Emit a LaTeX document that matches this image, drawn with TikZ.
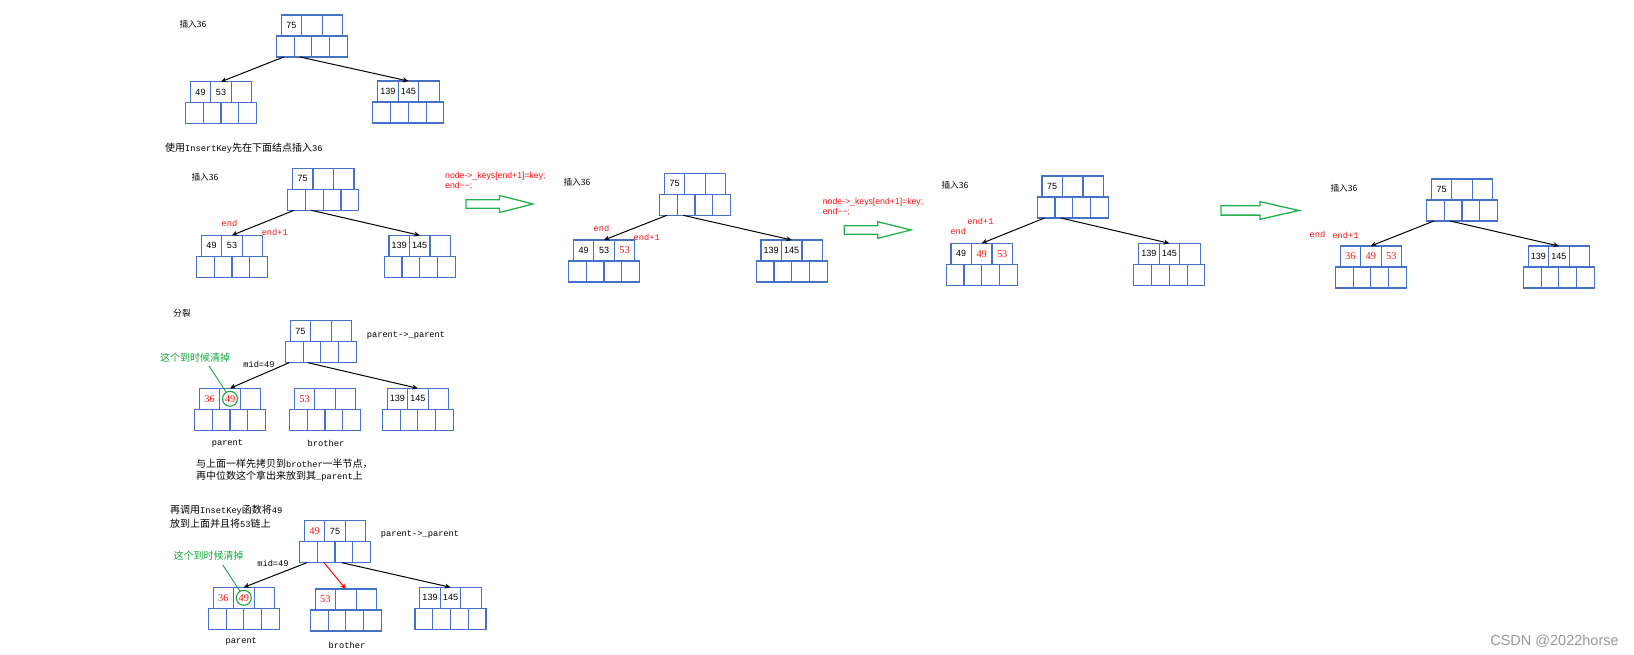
\documentclass[tikz,border=0pt]{standalone}
\usepackage{fontspec}
\setmainfont{Liberation Sans}
\newfontfamily\cjk{Noto Sans CJK SC}
\newfontfamily\mono{Liberation Mono}
\newfontfamily\snum{Liberation Serif}
\usetikzlibrary{arrows.meta}
\definecolor{cellblue}{HTML}{4472C4}
\definecolor{agreen}{HTML}{22B14C}
\definecolor{tgreen}{HTML}{14A83C}
\definecolor{wmgray}{HTML}{999999}
\definecolor{kred}{HTML}{FF1010}
\newcommand\redkey[1]{{\color{kred}\snum\fontsize{10.4}{11}\selectfont #1}}
\newcommand\latn[1]{{\mono\fontsize{8.7}{10}\selectfont #1}}
\newcommand\bnode[6]{%
 \node[ucell] (#1u1) at (#2-20.5,#3+10.5) {#4};
 \node[ucell] (#1u2) at (#2,#3+10.5) {#5};
 \node[ucell] (#1u3) at (#2+20.5,#3+10.5) {#6};
 \node[lcell] (#1l1) at (#2-26.625,#3+31.5) {};
 \node[lcell] (#1l2) at (#2-8.875,#3+31.5) {};
 \node[lcell] (#1l3) at (#2+8.875,#3+31.5) {};
 \node[lcell] (#1l4) at (#2+26.625,#3+31.5) {};
}
\newcommand\garrow[6]{\draw[gbig] (#1,#4-#5) -- (#2,#4-#5) -- (#2,#4-#6) -- (#3,#4) -- (#2,#4+#6) -- (#2,#4+#5) -- (#1,#4+#5) -- cycle;}
\tikzset{
 ucell/.style={draw=cellblue, line width=1.1pt, minimum width=20.5pt, minimum height=21pt, inner sep=0pt, outer sep=0pt, font=\fontsize{9}{10}\selectfont},
 lcell/.style={ucell, minimum width=17.75pt},
 tarrow/.style={line width=1pt, -{Stealth[length=5.5pt,width=5pt]}},
 rarrow/.style={tarrow, draw=red},
 gbig/.style={draw=agreen, line width=1.3pt, line join=miter},
 endlbl/.style={text=kred, font=\mono\fontsize{8.7}{10}\selectfont, inner sep=0pt},
 codetxt/.style={text=kred, font=\fontsize{8.7}{10}\selectfont, inner sep=0pt, anchor=west},
 instxt/.style={font=\cjk\fontsize{8.6}{10}\selectfont, inner sep=0pt},
 captxt/.style={font=\cjk\fontsize{10}{12}\selectfont, inner sep=0pt, anchor=west},
 lbltxt/.style={font=\mono\fontsize{8.7}{10}\selectfont, inner sep=0pt},
 gtxt/.style={text=tgreen, font=\cjk\fontsize{10}{12}\selectfont, inner sep=0pt},
 gcirc/.style={draw=tgreen, circle, line width=1.1pt, minimum size=15pt, inner sep=0pt},
 gline/.style={draw=tgreen, line width=0.9pt},
}
\begin{document}
\begin{tikzpicture}[x=1pt,y=-1pt]
\fill[white] (0,0) rectangle (1634,655);
\useasboundingbox (0,0) rectangle (1634,655);

% ---------- Diagram 1 ----------
\node[instxt] (t1) at (193,24) {插入36};
\bnode{aT}{311.8}{15}{75}{}{}
\bnode{aL}{221}{81.7}{49}{53}{}
\bnode{aR}{408.3}{81}{139}{145}{}
\draw[tarrow] ([xshift=-1.5pt]aTl1.south) -- (aLu2.north);
\draw[tarrow] ([xshift=-3pt]aTl2.south) -- (aRu2.north);
\node[captxt] (c1) at (165,148) {使用\latn{InsertKey}先在下面结点插入\latn{36}};

% ---------- Diagram 2 ----------
\node[instxt] (t2) at (205,177) {插入36};
\bnode{bT}{323.2}{168.3}{75}{}{}
\bnode{bL}{232}{235.3}{49}{53}{}
\bnode{bR}{419.7}{235.3}{139}{145}{}
\draw[tarrow] ([xshift=-2.5pt]bTl1.south) -- (bLu2.north);
\draw[tarrow] ([xshift=-3pt]bTl2.south) -- (bRu2.north);
\node[endlbl] (e2a) at (229.5,223.5) {end};
\node[endlbl] (e2b) at (274.8,232) {end+1};
\node[codetxt] (k1a) at (445,176.7) {node->\_keys[end+1]=key;};
\node[codetxt] (k1b) at (445,185.8) {end−−;};
\garrow{466}{499.5}{533}{204}{4.2}{8.5}

% ---------- Diagram 3 ----------
\node[instxt] (t3) at (577,182) {插入36};
\bnode{cT}{695}{173.3}{75}{}{}
\bnode{cL}{604}{240}{49}{53}{\redkey{53}}
\bnode{cR}{791.7}{240}{139}{145}{}
\draw[tarrow] ([xshift=-1.5pt]cTl1.south) -- (cLu2.north);
\draw[tarrow] ([xshift=-3pt]cTl2.south) -- (cRu2.north);
\node[endlbl] (e3a) at (601.5,228.5) {end};
\node[endlbl] (e3b) at (646.7,237) {end+1};
\node[codetxt] (k2a) at (822.7,202.3) {node->\_keys[end+1]=key;};
\node[codetxt] (k2b) at (822.7,211.5) {end−−;};
\garrow{844.3}{877.7}{911}{230}{4.2}{8.3}

% ---------- Diagram 4 ----------
\node[instxt] (t4) at (955,185) {插入36};
\bnode{dT}{1072.7}{176}{75}{}{}
\bnode{dL}{981.7}{243.3}{49}{\redkey{49}}{\redkey{53}}
\bnode{dR}{1169.3}{243.3}{139}{145}{}
\draw[tarrow] ([xshift=-1.5pt]dTl1.south) -- (dLu2.north);
\draw[tarrow] ([xshift=-3pt]dTl2.south) -- (dRu2.north);
\node[endlbl] (e4b) at (980.5,221.7) {end+1};
\node[endlbl] (e4a) at (958.3,231) {end};
\garrow{1221}{1260}{1299}{210.5}{4.65}{8.8}

% ---------- Diagram 5 ----------
\node[instxt] (t5) at (1344,188) {插入36};
\bnode{eT}{1462}{179}{75}{}{}
\bnode{eL}{1370.8}{246}{\redkey{36}}{\redkey{49}}{\redkey{53}}
\bnode{eR}{1558.8}{246}{139}{145}{}
\draw[tarrow] ([xshift=-1.5pt]eTl1.south) -- (eLu2.north);
\draw[tarrow] ([xshift=-3pt]eTl2.south) -- (eRu2.north);
\node[endlbl] (e5a) at (1317.5,234) {end};
\node[endlbl] (e5b) at (1345.5,235) {end+1};

% ---------- Diagram 6 ----------
\node[instxt] (t6) at (182,313.5) {分裂};
\bnode{fT}{320.8}{320.7}{75}{}{}
\bnode{fP}{230}{388.3}{\redkey{36}}{\redkey{49}}{}
\bnode{fB}{325}{388.3}{\redkey{53}}{}{}
\bnode{fR}{417.8}{388.3}{139}{145}{}
\draw[tarrow] ([xshift=-5pt]fTl1.south) -- (fPu2.north);
\draw[tarrow] ([xshift=-4pt]fTl2.south) -- (fRu2.north);
\node[lbltxt] (pp6) at (406,336) {parent->\_parent};
\node[lbltxt] (m6) at (259,364) {mid=49};
\node[gtxt] (g6) at (195,357.5) {这个到时候清掉};
\node[gcirc] (o6) at (fPu2.center) {};
\draw[gline] ([shift={(14,3.5)}]g6.south) -- (o6.120);
\node[lbltxt] (p6) at (227.5,443.5) {parent};
\node[lbltxt] (b6) at (326,443.5) {brother};
\node[captxt] (c6a) at (196,464.3) {与上面一样先拷贝到\latn{brother}一半节点，};
\node[captxt] (c6b) at (196,476.5) {再中位数这个拿出来放到其\latn{\_parent}上};

% ---------- Diagram 7 ----------
\node[captxt] (c7a) at (170,510) {再调用\latn{InsetKey}函数将\latn{49}};
\node[captxt] (c7b) at (170,523.8) {放到上面并且将\latn{53}链上};
\bnode{gT}{335}{520.7}{\redkey{49}}{75}{}
\bnode{gP}{243.8}{587.3}{\redkey{36}}{\redkey{49}}{}
\bnode{gB}{345.8}{589}{\redkey{53}}{}{}
\bnode{gR}{450.5}{587.3}{139}{145}{}
\draw[tarrow] ([xshift=-1.5pt]gTl1.south) -- (gPu2.north);
\draw[rarrow] ([xshift=-2pt]gTl2.south) -- (gBu2.north);
\draw[tarrow] ([xshift=-2pt]gTl3.south) -- (gRu2.north);
\node[lbltxt] (pp7) at (420,535) {parent->\_parent};
\node[lbltxt] (m7) at (273,563) {mid=49};
\node[gtxt] (g7) at (208.7,556) {这个到时候清掉};
\node[gcirc] (o7) at (gPu2.center) {};
\draw[gline] ([shift={(14,4)}]g7.south) -- (o7.120);
\node[lbltxt] (p7) at (241.3,642) {parent};
\node[lbltxt] (b7) at (347,645.5) {brother};

% watermark
\node[text=wmgray, font=\fontsize{14.5}{16}\selectfont, inner sep=0pt] (wm) at (1554.5,641) {CSDN @2022horse};
\end{tikzpicture}
\end{document}
